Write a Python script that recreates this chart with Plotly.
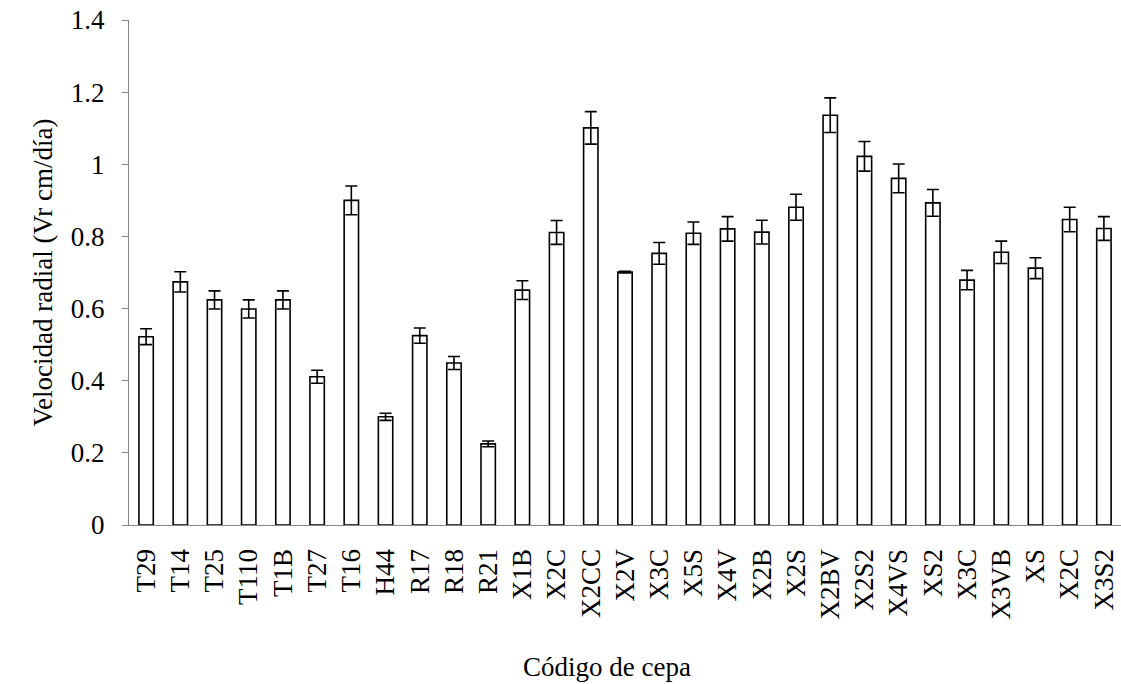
import plotly.graph_objects as go

# Strain codes (some codes repeat, so bars are placed by position index)
cepas = ["T29", "T14", "T25", "T110", "T1B", "T27", "T16", "H44", "R17", "R18",
         "R21", "X1B", "X2C", "X2CC", "X2V", "X3C", "X5S", "X4V", "X2B", "X2S",
         "X2BV", "X2S2", "X4VS", "XS2", "X3C", "X3VB", "XS", "X2C", "X3S2"]

# Mean radial growth rate (cm/day)
velocidad = [0.522, 0.674, 0.624, 0.599, 0.624, 0.411, 0.900, 0.300, 0.525, 0.449,
             0.225, 0.651, 0.811, 1.101, 0.701, 0.753, 0.809, 0.821, 0.812, 0.881,
             1.136, 1.022, 0.961, 0.893, 0.679, 0.756, 0.712, 0.847, 0.822]

# Standard error of each mean
error = [0.022, 0.028, 0.025, 0.025, 0.025, 0.018, 0.040, 0.010, 0.021, 0.018,
         0.008, 0.026, 0.033, 0.045, 0.002, 0.030, 0.031, 0.034, 0.033, 0.036,
         0.048, 0.041, 0.040, 0.037, 0.027, 0.031, 0.029, 0.034, 0.033]

y_ticks = [0, 0.2, 0.4, 0.6, 0.8, 1.0, 1.2, 1.4]
y_tick_text = ["0", "0.2", "0.4", "0.6", "0.8", "1", "1.2", "1.4"]

posiciones = list(range(len(cepas)))
fuente = "Liberation Serif"
tam = 27
gris = "#868686"

fig = go.Figure(
    go.Bar(
        x=posiciones,
        y=velocidad,
        marker=dict(color="white", line=dict(color="black", width=1.6)),
        error_y=dict(type="data", array=error, visible=True,
                     color="black", thickness=1.6, width=6),
        width=0.42,
    )
)

fig.update_layout(
    width=1121,
    height=684,
    margin=dict(l=129, r=0, t=20, b=159),
    paper_bgcolor="white",
    plot_bgcolor="white",
    showlegend=False,
    font=dict(family=fuente, size=tam, color="black"),
    xaxis=dict(
        range=[-0.5, len(cepas) - 0.5],
        tickmode="array",
        tickvals=posiciones,
        ticktext=cepas,
        tickangle=-90,
        showline=True,
        linecolor=gris,
        linewidth=1.3,
        showgrid=False,
        zeroline=False,
        ticks="",
        ticklabelstandoff=12,
        tickfont=dict(family=fuente, size=tam, color="black"),
    ),
    yaxis=dict(
        range=[0, 1.4],
        tickmode="array",
        tickvals=y_ticks,
        ticktext=y_tick_text,
        showline=True,
        linecolor=gris,
        linewidth=1.3,
        ticks="outside",
        ticklen=6,
        tickcolor=gris,
        tickwidth=1.3,
        ticklabelstandoff=12,
        showgrid=False,
        zeroline=False,
        tickfont=dict(family=fuente, size=tam, color="black"),
        title=dict(text="Velocidad radial (Vr cm/día)",
                   font=dict(family=fuente, size=tam, color="black"), standoff=10),
    ),
    annotations=[
        dict(text="Código de cepa", xref="paper", yref="paper",
             x=0.482, y=-0.281, xanchor="center", yanchor="middle",
             showarrow=False, font=dict(family=fuente, size=tam, color="black")),
    ],
)

fig.write_html("out.html")
